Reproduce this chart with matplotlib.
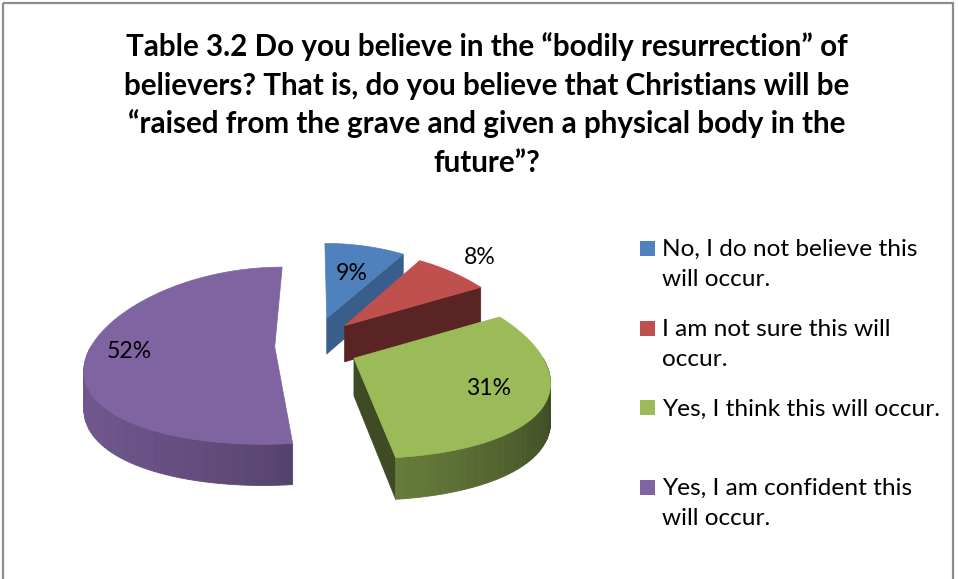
import numpy as np
import matplotlib
matplotlib.use("Agg")
import matplotlib.pyplot as plt
from matplotlib.patches import Polygon, Rectangle
from matplotlib.colors import to_rgb

# ---------------- data ----------------
title_lines = [
    "Table 3.2 Do you believe in the \u201cbodily resurrection\u201d of",
    "believers? That is, do you believe that Christians will be",
    "\u201craised from the grave and given a physical body in the",
    "future\u201d?",
]
categories = [
    "No, I do not believe this\nwill occur.",
    "I am not sure this will\noccur.",
    "Yes, I think this will occur.",
    "Yes, I am confident this\nwill occur.",
]
values = [9, 8, 31, 52]
pct_labels = ["9%", "8%", "31%", "52%"]

# ---------------- style ----------------
top_colors = ["#4F81BD", "#C0504D", "#9BBB59", "#8064A2"]
cut_colors = ["#3A5E8B", "#5B2424", "#3F4B24", "#4A3B60"]
label_radius = [0.6, 1.3, 0.72, 0.78]

W, H = 958, 579
fig = plt.figure(figsize=(W / 100, H / 100), dpi=100)
ax = fig.add_axes([0, 0, 1, 1])
ax.set_xlim(0, W)
ax.set_ylim(H, 0)
ax.axis("off")

# chart border
ax.add_patch(Rectangle((3, 3), 950, 620, fill=False, edgecolor="#8C8C8C", lw=1.6))

renderer = fig.canvas.get_renderer()


def fit_size(s, family, weight, target):
    t = ax.text(0, 0, s, fontsize=20, family=family, weight=weight)
    w = t.get_window_extent(renderer).width
    t.remove()
    return 20 * target / w


# ---------------- title ----------------
tsize = fit_size(title_lines[0], "Lato", "bold", 723)
for i, line in enumerate(title_lines):
    ax.text(487, 56 + 38.6 * i, line, fontsize=tsize, family="Lato",
            weight="bold", ha="center", va="baseline", color="black")

# ---------------- 3D exploded pie (pseudo perspective) ----------------
CX, CY = 316, 345
SX, SY = 183, 87.3
DEPTH = 37
EXP_X, EXP_Y = 0.225, 0.33
KX, KY = 0.22, 0.10

vals = np.array(values, dtype=float)
fr = vals / vals.sum()
ends = np.cumsum(fr) * 360.0
starts = ends - fr * 360.0


def proj(theta_deg, r, mid, z=0.0):
    t = np.radians(theta_deg)
    m = np.radians(mid)
    X = r * np.sin(t) + EXP_X * np.sin(m)
    Y = r * np.cos(t) + EXP_Y * np.cos(m)
    px = 1.0 / (1.0 + KX * Y)
    py = 1.0 / (1.0 + KY * Y)
    return (CX + SX * X * px, CY - SY * Y * py + z * py)


def shade(color, f):
    c = np.array(to_rgb(color)) * f
    return tuple(np.clip(c, 0, 1))


def wall_factor(theta_deg):
    t = np.radians(theta_deg)
    return 0.60 - 0.25 * np.sin(t) - 0.10 * np.cos(t)


slices = []
for i in range(len(values)):
    t1, t2 = starts[i], ends[i]
    mid = 0.5 * (t1 + t2)
    slices.append((i, t1, t2, mid))

# draw back to front
order = sorted(slices, key=lambda s: -np.cos(np.radians(s[3])))
for (i, t1, t2, mid) in order:
    apex_top = proj(0, 0, mid)
    apex_bot = proj(0, 0, mid, DEPTH)
    # radial cut faces
    if np.sin(np.radians(t2)) > 1e-6:
        poly = [apex_top, proj(t2, 1, mid), proj(t2, 1, mid, DEPTH), apex_bot]
        ax.add_patch(Polygon(poly, closed=True, facecolor=cut_colors[i],
                             edgecolor=cut_colors[i], lw=0.5))
    if np.sin(np.radians(t1)) < -1e-6:
        poly = [apex_top, proj(t1, 1, mid), proj(t1, 1, mid, DEPTH), apex_bot]
        ax.add_patch(Polygon(poly, closed=True, facecolor=cut_colors[i],
                             edgecolor=cut_colors[i], lw=0.5))
    # outer wall (front half only)
    lo, hi = max(t1, 90.0), min(t2, 270.0)
    if hi > lo:
        n = max(int((hi - lo) / 2.0), 1)
        edges = np.linspace(lo, hi, n + 1)
        for a, b in zip(edges[:-1], edges[1:]):
            arc = np.linspace(a, b, 4)
            topp = [proj(t, 1, mid) for t in arc]
            botp = [proj(t, 1, mid, DEPTH) for t in arc[::-1]]
            c = shade(top_colors[i], wall_factor(0.5 * (a + b)))
            ax.add_patch(Polygon(topp + botp, closed=True, facecolor=c,
                                 edgecolor=c, lw=0.6))
    # top face
    arc = np.linspace(t1, t2, max(int(t2 - t1), 2) * 2)
    poly = [apex_top] + [proj(t, 1, mid) for t in arc]
    ax.add_patch(Polygon(poly, closed=True, facecolor=top_colors[i],
                         edgecolor=top_colors[i], lw=0.5))

# data labels
psize = fit_size("31%", "Lato", "normal", 45)
for (i, t1, t2, mid) in slices:
    x, y = proj(mid, label_radius[i], mid)
    ax.text(x, y, pct_labels[i], fontsize=psize, family="Lato",
            ha="center", va="center", color="black")

# ---------------- legend ----------------
lsize = fit_size("No, I do not believe this", "Lato", "normal", 255)
LEG_X, LEG_Y0, LEG_DY, LINE_DY = 640, 256, 79.7, 30
SQ = 15
for i, lab in enumerate(categories):
    yb = LEG_Y0 + LEG_DY * i
    ax.add_patch(Rectangle((LEG_X, yb - 7.5 - SQ / 2), SQ, SQ,
                           facecolor=top_colors[i], edgecolor="none"))
    for j, ln in enumerate(lab.split("\n")):
        ax.text(LEG_X + 22, yb + LINE_DY * j, ln, fontsize=lsize, family="Lato",
                ha="left", va="baseline", color="black")

fig.savefig("out.png", dpi=100)
